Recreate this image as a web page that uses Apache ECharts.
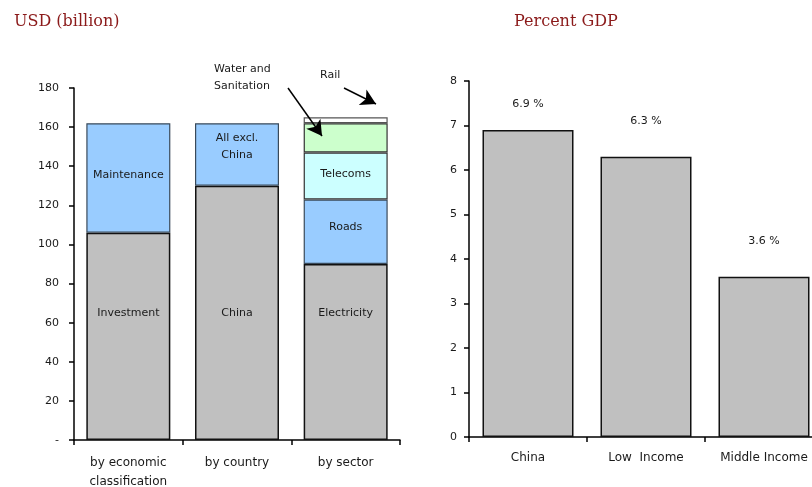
<!DOCTYPE html>
<html>
<head>
<meta charset="utf-8">
<script src="https://cdn.jsdelivr.net/npm/echarts@6/dist/echarts.min.js"></script>
<style>
html,body{margin:0;padding:0;background:#fff;}
#chart{width:812px;height:487px;}
</style>
</head>
<body>
<div id="chart"></div>
<script>
// ---- Data ----
var leftCategories = ['by economic\nclassification', 'by country', 'by sector'];
var leftTicks = [0, 20, 40, 60, 80, 100, 120, 140, 160, 180];
var baseNames = ['Investment', 'China', 'Electricity'];
var baseValues = [106, 130, 90];
var secondNames = ['Maintenance', 'All excl.\nChina', 'Roads'];
var secondValues = [56, 32, 33];
var telecomsValues = [null, null, 24];
var waterValues = [null, null, 15];
var railValues = [null, null, 3];

var rightCategories = ['China', 'Low  Income', 'Middle Income'];
var rightValues = [6.9, 6.3, 3.6];
var rightTicks = [0, 1, 2, 3, 4, 5, 6, 7, 8];

// ---- Styles ----
var FONT = 'DejaVu Sans';
var TXT = '#1a1a1a';
var baseLabelDist = [72, 119, 41];
var secondLabelDist = [43, 6, 19];
var rightLabelDist = [20, 30, 30];

function itemsWithLabels(values, names, dists) {
  return values.map(function (v, i) {
    if (v == null) return null;
    return {
      value: v,
      label: {
        show: !!names[i], formatter: names[i] || '', position: 'insideTop',
        distance: dists[i], fontFamily: FONT, fontSize: 11, color: TXT, lineHeight: 17
      }
    };
  });
}

var chart = echarts.init(document.getElementById('chart'), null, {renderer: 'canvas'});

var option = {
  animation: false,
  backgroundColor: '#fff',
  title: [
    {text: 'USD (billion)', left: 9, top: 9,
     textStyle: {fontFamily: 'DejaVu Serif', fontSize: 16, fontWeight: 'normal', color: '#8B1A1A'}},
    {text: 'Percent GDP', left: 509, top: 9,
     textStyle: {fontFamily: 'DejaVu Serif', fontSize: 16, fontWeight: 'normal', color: '#8B1A1A'}}
  ],
  grid: [
    {left: 74, top: 88, width: 326, height: 352, outerBoundsMode: 'none', containLabel: false},
    {left: 469, top: 81, width: 354, height: 356, outerBoundsMode: 'none', containLabel: false}
  ],
  xAxis: [
    {type: 'category', gridIndex: 0, data: leftCategories,
     axisLine: {lineStyle: {color: '#000', width: 1.5}},
     axisTick: {show: true, length: 5, lineStyle: {color: '#000', width: 1.5}},
     axisLabel: {fontFamily: FONT, fontSize: 12, color: TXT, margin: 13, lineHeight: 19, interval: 0}},
    {type: 'category', gridIndex: 1, data: rightCategories,
     axisLine: {lineStyle: {color: '#000', width: 1.5}},
     axisTick: {show: true, length: 5, lineStyle: {color: '#000', width: 1.5}},
     axisLabel: {fontFamily: FONT, fontSize: 12, color: TXT, margin: 15, interval: 0}}
  ],
  yAxis: [
    {type: 'value', gridIndex: 0, min: leftTicks[0], max: leftTicks[leftTicks.length - 1], interval: 20,
     axisLine: {show: true, lineStyle: {color: '#000', width: 1.5}},
     axisTick: {show: true, length: 5, lineStyle: {color: '#000', width: 1.5}},
     splitLine: {show: false},
     axisLabel: {fontFamily: FONT, fontSize: 11, color: TXT, margin: 15,
       formatter: function (v) { return v === 0 ? '-' : String(v); }}},
    {type: 'value', gridIndex: 1, min: rightTicks[0], max: rightTicks[rightTicks.length - 1], interval: 1,
     axisLine: {show: true, lineStyle: {color: '#000', width: 1.5}},
     axisTick: {show: true, length: 5, lineStyle: {color: '#000', width: 1.5}},
     splitLine: {show: false},
     axisLabel: {fontFamily: FONT, fontSize: 11, color: TXT, margin: 12}}
  ],
  series: [
    {type: 'bar', name: 'base', stack: 'a', xAxisIndex: 0, yAxisIndex: 0, barWidth: 84,
     itemStyle: {color: '#C0C0C0', borderColor: '#111', borderWidth: 1.5},
     data: itemsWithLabels(baseValues, baseNames, baseLabelDist)},
    {type: 'bar', name: 'second', stack: 'a', xAxisIndex: 0, yAxisIndex: 0, barWidth: 84,
     itemStyle: {color: '#99CCFF', borderColor: '#3a4a5a', borderWidth: 1.2},
     data: itemsWithLabels(secondValues, secondNames, secondLabelDist)},
    {type: 'bar', name: 'Telecoms', stack: 'a', xAxisIndex: 0, yAxisIndex: 0, barWidth: 84,
     itemStyle: {color: '#CCFFFF', borderColor: '#333', borderWidth: 1.2},
     data: itemsWithLabels(telecomsValues, [null, null, 'Telecoms'], [0, 0, 13])},
    {type: 'bar', name: 'Water and Sanitation', stack: 'a', xAxisIndex: 0, yAxisIndex: 0, barWidth: 84,
     itemStyle: {color: '#CCFFCC', borderColor: '#333', borderWidth: 1.2},
     data: waterValues},
    {type: 'bar', name: 'Rail', stack: 'a', xAxisIndex: 0, yAxisIndex: 0, barWidth: 84,
     itemStyle: {color: '#FFFFFF', borderColor: '#555', borderWidth: 1.2},
     data: railValues,
     markLine: {
       silent: true, symbol: ['none', 'arrow'], symbolSize: [13, 15],
       label: {show: false},
       lineStyle: {color: '#000', width: 1.5, type: 'solid'},
       data: [
         [{x: 288, y: 88}, {x: 322, y: 136}],
         [{x: 344, y: 88}, {x: 376, y: 104}]
       ]
     }},
    {type: 'bar', name: 'Percent GDP', xAxisIndex: 1, yAxisIndex: 1, barWidth: 91,
     itemStyle: {color: '#C0C0C0', borderColor: '#111', borderWidth: 1.5},
     data: rightValues.map(function (v, i) {
       return {value: v, label: {show: true, position: 'top', distance: rightLabelDist[i],
         formatter: v.toFixed(1) + ' %', fontFamily: FONT, fontSize: 11, color: TXT}};
     })}
  ],
  graphic: [
    {type: 'text', left: 214, top: 61,
     style: {text: 'Water and\nSanitation', fontFamily: FONT, fontSize: 11, fill: TXT, lineHeight: 17}},
    {type: 'text', left: 320, top: 70,
     style: {text: 'Rail', fontFamily: FONT, fontSize: 11, fill: TXT}}
  ]
};
chart.setOption(option);
</script>
</body>
</html>
